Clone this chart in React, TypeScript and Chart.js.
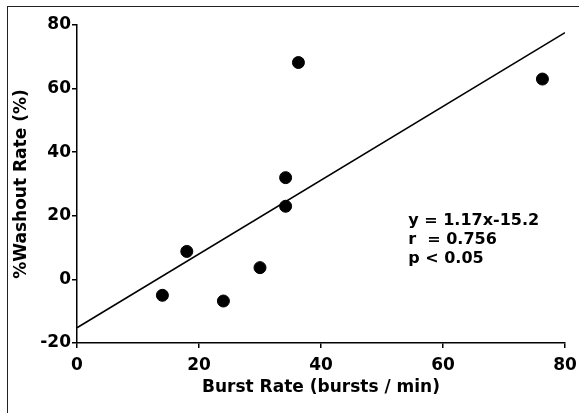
import { useEffect, useRef } from 'react';
import { Chart, registerables } from 'chart.js';

Chart.register(...registerables);

const burstRate = [14, 18, 24, 30, 34.2, 34.2, 36.3, 76.3];
const washoutRate = [-5, 8.8, -6.8, 3.7, 23, 32, 68.2, 63];

const fitX = [0, 80];
const fitY = [-15.2, 77.6];

const xTicks = [0, 20, 40, 60, 80];
const yTicks = [-20, 0, 20, 40, 60, 80];

const statsLines = ['y = 1.17x-15.2', 'r  = 0.756', 'p < 0.05'];
const statsAnchor = [54.3, 18.5];

const FAMILY = '"DejaVu Sans", Verdana, sans-serif';

const statsPlugin = {
  id: 'statsText',
  afterDatasetsDraw(chart: any) {
    const { ctx, scales } = chart;
    const x = scales.x;
    const y = scales.y;
    ctx.save();
    ctx.font = `bold 16px ${FAMILY}`;
    ctx.fillStyle = '#000';
    ctx.textBaseline = 'middle';
    ctx.textAlign = 'left';
    const left = x.getPixelForValue(statsAnchor[0]);
    const top = y.getPixelForValue(statsAnchor[1]);
    statsLines.forEach((t, i) => ctx.fillText(t, left, top + i * 19));
    ctx.restore();
  },
};

export default function App() {
  const ref = useRef<HTMLCanvasElement>(null);
  useEffect(() => {
    if (!ref.current) return;
    const tickFont = { family: FAMILY, size: 17, weight: 'bold' as const };
    const titleFont = { family: FAMILY, size: 17, weight: 'bold' as const };
    const chart = new Chart(ref.current, {
      type: 'scatter',
      data: {
        datasets: [
          {
            type: 'line',
            data: fitX.map((v, i) => ({ x: v, y: fitY[i] })),
            borderColor: '#000',
            borderWidth: 1.5,
            pointRadius: 0,
            fill: false,
          } as any,
          {
            type: 'scatter',
            data: burstRate.map((v, i) => ({ x: v, y: washoutRate[i] })),
            backgroundColor: '#000',
            borderColor: '#000',
            pointRadius: 6,
            pointHoverRadius: 6,
          },
        ],
      },
      options: {
        animation: false,
        responsive: true,
        maintainAspectRatio: false,
        layout: { padding: { top: 25, right: 14, left: 11, bottom: 15 } },
        plugins: { legend: { display: false }, tooltip: { enabled: false } },
        scales: {
          x: {
            type: 'linear',
            min: 0,
            max: 80,
            afterBuildTicks: (s: any) => {
              s.ticks = xTicks.map((v) => ({ value: v }));
            },
            ticks: { color: '#000', font: tickFont, padding: 7, maxRotation: 0 },
            grid: { drawOnChartArea: false, drawTicks: true, tickLength: 5, color: '#000', lineWidth: 1.5 },
            border: { display: true, color: '#000', width: 1.5 },
            title: {
              display: true,
              text: 'Burst Rate (bursts / min)',
              color: '#000',
              font: titleFont,
              padding: { top: 2, bottom: 0 },
            },
            afterFit: (s: any) => {
              s.height = 55;
              s.paddingLeft = 0;
              s.paddingRight = 0;
            },
          },
          y: {
            type: 'linear',
            min: -20,
            max: 80,
            afterBuildTicks: (s: any) => {
              s.ticks = yTicks.map((v) => ({ value: v }));
            },
            ticks: { color: '#000', font: tickFont, padding: 1 },
            grid: { drawOnChartArea: false, drawTicks: true, tickLength: 5, color: '#000', lineWidth: 1.5 },
            border: { display: true, color: '#000', width: 1.5 },
            title: {
              display: true,
              text: '%Washout Rate (%)',
              color: '#000',
              font: titleFont,
              padding: { top: 0, bottom: 4 },
            },
            afterFit: (s: any) => {
              s.width = 66;
              s.paddingTop = 0;
              s.paddingBottom = 0;
            },
          },
        },
      },
      plugins: [statsPlugin],
    });
    return () => chart.destroy();
  }, []);

  return (
    <div style={{ position: 'fixed', left: 0, top: 0, width: 579, height: 413, background: '#fff' }}>
      <div
        style={{
          position: 'absolute',
          left: 7,
          top: 6,
          right: 0,
          bottom: 0,
          borderLeft: '1px solid #222',
          borderTop: '1px solid #222',
        }}
      />
      <canvas ref={ref} />
    </div>
  );
}
